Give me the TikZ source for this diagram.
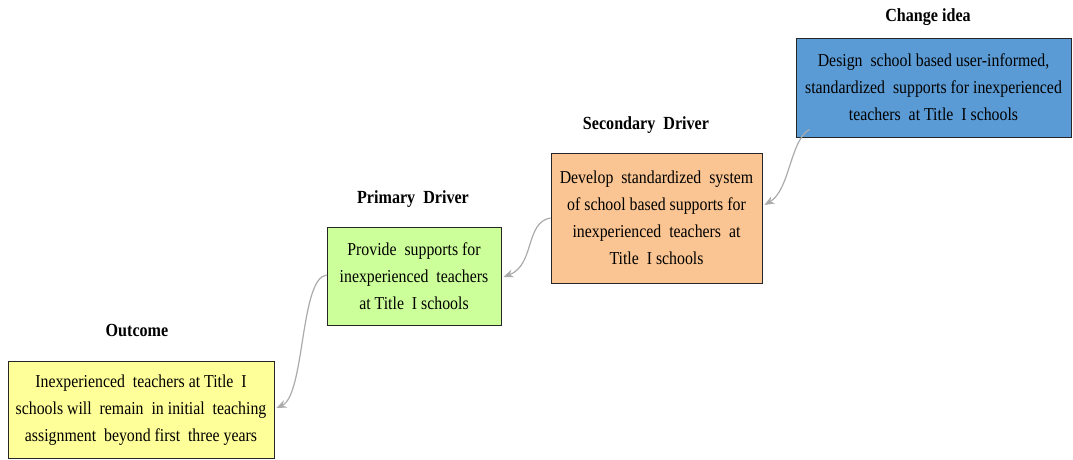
\documentclass[tikz,border=0pt]{standalone}
\usepackage{fontspec}
\setmainfont{Liberation Serif}[FakeStretch=0.87]
\usetikzlibrary{arrows.meta}
\definecolor{cyellow}{HTML}{FFFF99}
\definecolor{cgreen}{HTML}{CCFF99}
\definecolor{corange}{HTML}{FAC592}
\definecolor{cblue}{HTML}{5B9BD5}
\definecolor{carrow}{HTML}{ABABAB}
\begin{document}
\begin{tikzpicture}[x=1pt,y=-1pt,
  box/.style={draw=black!85, line width=0.9pt, align=center, inner sep=0pt,
    font=\fontsize{18.2}{27}\selectfont},
  ttl/.style={font=\fontsize{18.5}{20}\selectfont\bfseries},
  conn/.style={draw=carrow, line width=1.2pt, -{Stealth[length=10pt,width=8pt]}}]
\useasboundingbox (0,0) rectangle (1073,460);
\node[box, fill=cyellow, minimum width=266pt, minimum height=97pt] (out) at (141,410)
  {Inexperienced\ \ teachers\ at Title\ \ I\\ schools\ will\ \ remain\ \ in initial\ \ teaching\\ assignment\ \ beyond first\ \ three years};
\node[box, fill=cgreen, minimum width=174pt, minimum height=98pt] (pri) at (414,276)
  {Provide\ \ supports for\\ inexperienced\ \ teachers\\ at Title\ \ I schools};
\node[box, fill=corange, minimum width=211pt, minimum height=130pt] (sec) at (656.5,218)
  {Develop\ \ standardized\ \ system\\ of school based supports for\\ inexperienced\ \ teachers\ \ at\\ Title\ \ I schools};
\node[box, fill=cblue, minimum width=275pt, minimum height=99pt] (chg) at (933.5,87.5)
  {Design\ \ school\ based user-informed,\\ standardized\ \ supports for inexperienced\\ teachers\ \ at Title\ \ I schools};
\node[ttl] (tchg) at (928,17) {Change idea};
\node[ttl] (tsec) at (646,125) {Secondary\ \ Driver};
\node[ttl] (tpri) at (413,199) {Primary\ \ Driver};
\node[ttl] (tout) at (137,330) {Outcome};
\coordinate (c1) at ([shift={(14,-8)}]chg.south west);
\draw[conn] (c1) .. controls (790,140) and (790,190) .. ([xshift=2pt]sec.east|-0,205);
\draw[conn] (sec.west|-0,218) .. controls (525,222) and (535,265) .. ([xshift=2pt]pri.east|-0,277);
\draw[conn] (pri.west|-0,275) .. controls (300,278) and (305,395) .. ([xshift=2pt]out.east|-0,408);
\end{tikzpicture}
\end{document}
